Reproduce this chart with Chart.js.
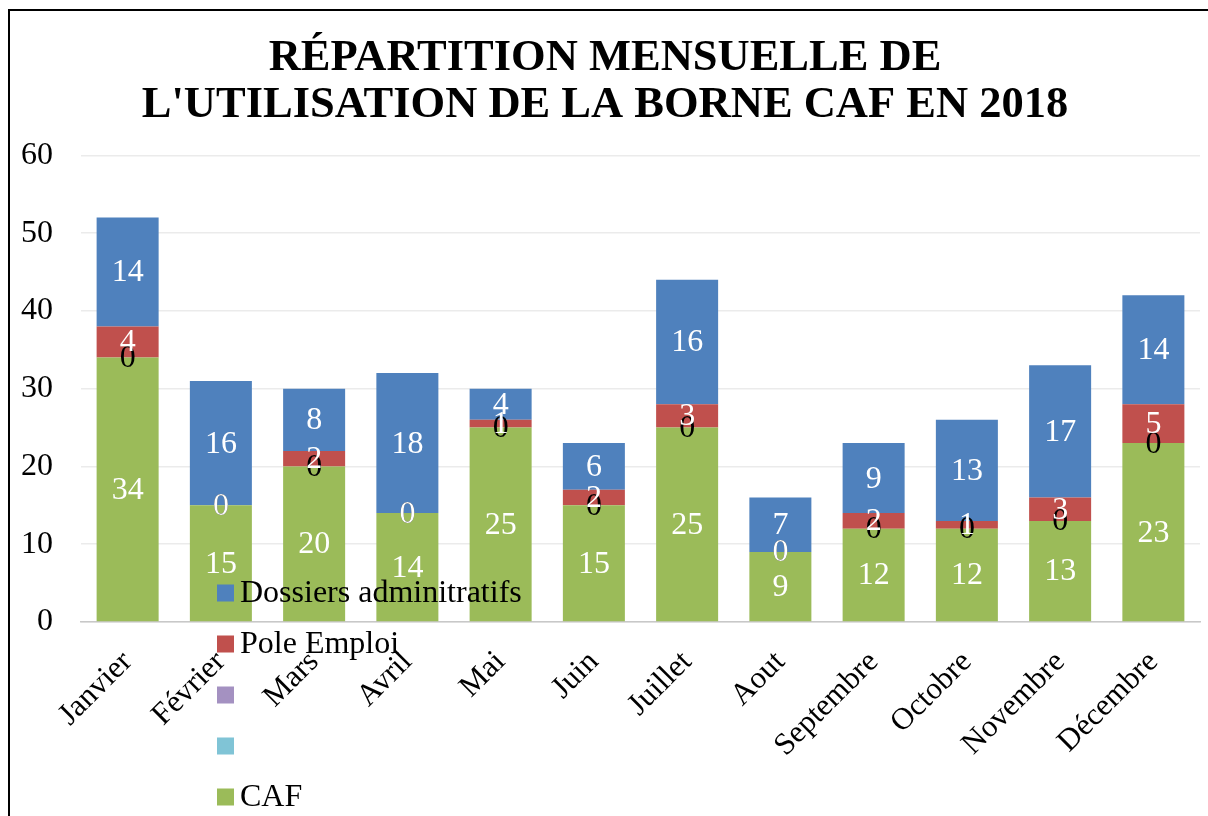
<!DOCTYPE html>
<html>
<head>
<meta charset="utf-8">
<script src="https://cdn.jsdelivr.net/npm/chart.js@4/dist/chart.umd.min.js"></script>
<style>
    html, body { margin: 0; padding: 0; background: #fff; }
    #wrap { width: 1208px; height: 816px; }
</style>
</head>
<body>
<div id="wrap"><canvas id="chart" width="1208" height="816"></canvas></div>
<script>
const months = ['Janvier', 'Février', 'Mars', 'Avril', 'Mai', 'Juin', 'Juillet', 'Aout', 'Septembre', 'Octobre', 'Novembre', 'Décembre'];
const caf = [34, 15, 20, 14, 25, 15, 25, 9, 12, 12, 13, 23];
const emptyCyan = [0, 0, 0, 0, 0, 0, 0, 0, 0, 0, 0, 0];
const emptyPurple = [0, 0, 0, 0, 0, 0, 0, 0, 0, 0, 0, 0];
const poleEmploi = [4, 0, 2, 0, 1, 2, 3, 0, 2, 1, 3, 5];
const dossiers = [14, 16, 8, 18, 4, 6, 16, 7, 9, 13, 17, 14];
const yTicks = [0, 10, 20, 30, 40, 50, 60];
const titleLines = ['RÉPARTITION MENSUELLE DE', "L'UTILISATION DE LA BORNE CAF EN 2018"];

const serif = "'Liberation Serif', 'Times New Roman', serif";

// frame around the chart (left + top only are visible)
const framePlugin = {
    id: 'frame',
    beforeDraw(chart) {
        const ctx = chart.ctx;
        ctx.save();
        ctx.strokeStyle = '#000';
        ctx.lineWidth = 2;
        ctx.beginPath();
        ctx.moveTo(9, 816);
        ctx.lineTo(9, 10);
        ctx.lineTo(1208, 10);
        ctx.stroke();
        ctx.restore();
    }
};

// value labels centred in each segment
const labelPlugin = {
    id: 'segLabels',
    afterDatasetsDraw(chart) {
        const ctx = chart.ctx;
        ctx.save();
        ctx.font = '32px ' + serif;
        ctx.textAlign = 'center';
        ctx.textBaseline = 'middle';
        chart.data.datasets.forEach((ds, i) => {
            if (!ds.showLabels) return;
            const meta = chart.getDatasetMeta(i);
            ctx.fillStyle = ds.labelColor;
            meta.data.forEach((bar, j) => {
                const yc = (bar.y + bar.base) / 2;
                ctx.fillText(String(ds.data[j]), bar.x, yc + 1);
            });
        });
        ctx.restore();
    }
};

// legend overlapping the plot, bottom-left, vertical list
const legendPlugin = {
    id: 'sideLegend',
    afterDraw(chart) {
        const ctx = chart.ctx;
        const order = [4, 3, 2, 1, 0];
        ctx.save();
        ctx.font = '32px ' + serif;
        ctx.textAlign = 'left';
        ctx.textBaseline = 'middle';
        order.forEach((idx, k) => {
            const ds = chart.data.datasets[idx];
            const yc = 593 + k * 51;
            ctx.fillStyle = ds.legendColor || ds.backgroundColor;
            ctx.fillRect(217, yc - 8.5, 17, 17);
            ctx.fillStyle = '#000';
            ctx.fillText(ds.label, 240, yc + 1);
        });
        ctx.restore();
    }
};

const ctx = document.getElementById('chart').getContext('2d');
new Chart(ctx, {
    type: 'bar',
    data: {
        labels: months,
        datasets: [
            { label: 'CAF', data: caf, backgroundColor: '#9BBB59', showLabels: true, labelColor: '#fff' },
            { label: '', data: emptyCyan, backgroundColor: '#4BACC6', legendColor: '#80C4D6', showLabels: true, labelColor: '#000' },
            { label: '', data: emptyPurple, backgroundColor: '#8064A2', legendColor: '#A491C1', showLabels: false },
            { label: 'Pole Emploi', data: poleEmploi, backgroundColor: '#C0504D', showLabels: true, labelColor: '#fff' },
            { label: 'Dossiers adminitratifs', data: dossiers, backgroundColor: '#4F81BD', showLabels: true, labelColor: '#fff' }
        ]
    },
    options: {
        responsive: false,
        animation: false,
        layout: {
            padding: { left: 10, right: 8, top: 0, bottom: 0 }
        },
        datasets: {
            bar: {
                categoryPercentage: 1,
                barPercentage: 0.665,
                borderWidth: 0
            }
        },
        scales: {
            x: {
                stacked: true,
                grid: { display: false, drawTicks: false },
                border: { display: true, color: '#c8c8c8', width: 1.5 },
                ticks: {
                    color: '#000',
                    font: { family: serif, size: 31 },
                    maxRotation: 45,
                    minRotation: 45,
                    padding: 22,
                    autoSkip: false
                },
                afterFit(scale) {
                    scale.height = 194;
                }
            },
            y: {
                stacked: true,
                min: 0,
                max: 60,
                afterBuildTicks(scale) {
                    scale.ticks = yTicks.map(v => ({ value: v }));
                },
                grid: { color: '#ebebeb', lineWidth: 1.5, drawTicks: false },
                border: { display: false },
                ticks: {
                    color: '#000',
                    font: { family: serif, size: 32 },
                    padding: 28
                },
                afterFit(scale) {
                    scale.width = 71;
                }
            }
        },
        plugins: {
            legend: { display: false },
            tooltip: { enabled: false },
            title: {
                display: true,
                text: titleLines,
                color: '#000',
                font: { family: serif, size: 44.5, weight: 'bold', lineHeight: 1.06 },
                padding: { top: 35, bottom: 26 }
            }
        }
    },
    plugins: [framePlugin, labelPlugin, legendPlugin]
});
</script>
</body>
</html>
